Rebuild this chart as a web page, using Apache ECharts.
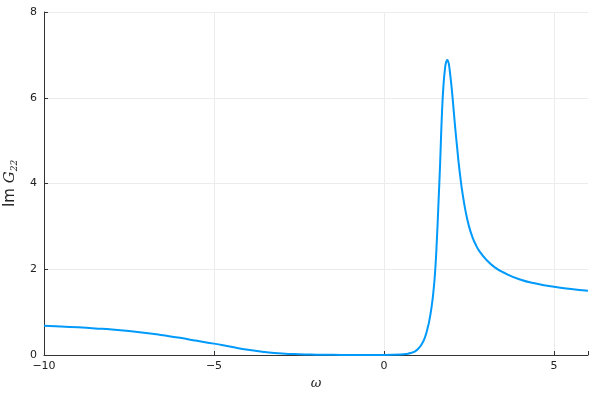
<!DOCTYPE html>
<html><head><meta charset="utf-8">
<script src="https://cdn.jsdelivr.net/npm/echarts@6/dist/echarts.min.js"></script>
<style>html,body{margin:0;padding:0;background:#fff}#c{width:600px;height:400px}</style>
</head><body><div id="c"></div>
<script>
var omega = [-10,-9.5,-9,-8.5,-8,-7.5,-7,-6.5,-6,-5.5,-5,-4.5,-4,-3.5,-3,-2.5,-2,-1.5,-1,0,0.5,0.7,0.8,0.9,1.0,1.1,1.2,1.3,1.35,1.4,1.45,1.5,1.55,1.6,1.65,1.7,1.75,1.8,1.83,1.86,1.89,1.92,1.95,2.0,2.05,2.1,2.15,2.2,2.25,2.3,2.4,2.5,2.6,2.7,2.8,3.0,3.25,3.5,4.0,4.5,5.0,5.5,6.0];
var imG22 = [0.68,0.665,0.645,0.62,0.595,0.56,0.515,0.46,0.40,0.33,0.265,0.19,0.12,0.07,0.035,0.017,0.008,0.004,0.002,0.001,0.01,0.03,0.05,0.08,0.14,0.24,0.40,0.68,0.88,1.12,1.45,1.9,2.6,3.5,4.45,5.55,6.3,6.72,6.84,6.88,6.84,6.72,6.52,6.15,5.7,5.25,4.85,4.45,4.12,3.82,3.35,3.0,2.75,2.57,2.43,2.23,2.05,1.93,1.76,1.66,1.59,1.54,1.50];
var xTicks = [-10,-5,0,5];
var yTicks = [0,2,4,6,8];

var chart = echarts.init(document.getElementById('c'), null, {renderer:'canvas'});
var data = omega.map(function(w,i){return [w, imG22[i]];});
var fmt = function(v){ return String(v).replace('-', '\u2212'); };
chart.setOption({
  animation:false,
  grid:{left:44,right:12,top:12,bottom:45,containLabel:false,outerBoundsMode:'none'},
  xAxis:{type:'value',min:-10,max:6,interval:5,
    name:'\u03c9',nameLocation:'middle',nameGap:22,
    nameTextStyle:{fontFamily:'DejaVu Serif',fontStyle:'italic',fontSize:13,color:'#222'},
    axisLine:{onZero:false,lineStyle:{color:'#333',width:1}},
    axisTick:{inside:true,length:4,lineStyle:{color:'#333'}},
    axisLabel:{formatter:function(v){return xTicks.indexOf(v)>=0?fmt(v):'';},fontSize:11,color:'#222',margin:6,fontFamily:'DejaVu Sans'},
    splitLine:{show:true,showMaxLine:false,lineStyle:{color:'#ececec',width:1}}
  },
  yAxis:{type:'value',min:0,max:8,interval:2,
    name:'{a|Im }{b|G}{c|22}',nameLocation:'middle',nameGap:22,nameRotate:90,
    nameTextStyle:{color:'#222',rich:{
      a:{fontSize:15,fontFamily:'DejaVu Sans',color:'#222'},
      b:{fontSize:15,fontFamily:'DejaVu Serif',fontStyle:'italic',color:'#222'},
      c:{fontSize:9,fontFamily:'DejaVu Serif',fontStyle:'italic',color:'#222',padding:[8,0,0,0]}
    }},
    axisLine:{show:true,onZero:false,lineStyle:{color:'#333',width:1}},
    axisTick:{show:true,inside:true,length:4,lineStyle:{color:'#333'}},
    axisLabel:{formatter:function(v){return yTicks.indexOf(v)>=0?fmt(v):'';},fontSize:11,color:'#222',margin:7,fontFamily:'DejaVu Sans'},
    splitLine:{show:true,lineStyle:{color:'#ececec',width:1}}
  },
  series:[{type:'line',data:data,showSymbol:false,smooth:0.5,
    lineStyle:{color:'#009AFA',width:2},itemStyle:{color:'#009AFA'}}]
});
</script></body></html>
